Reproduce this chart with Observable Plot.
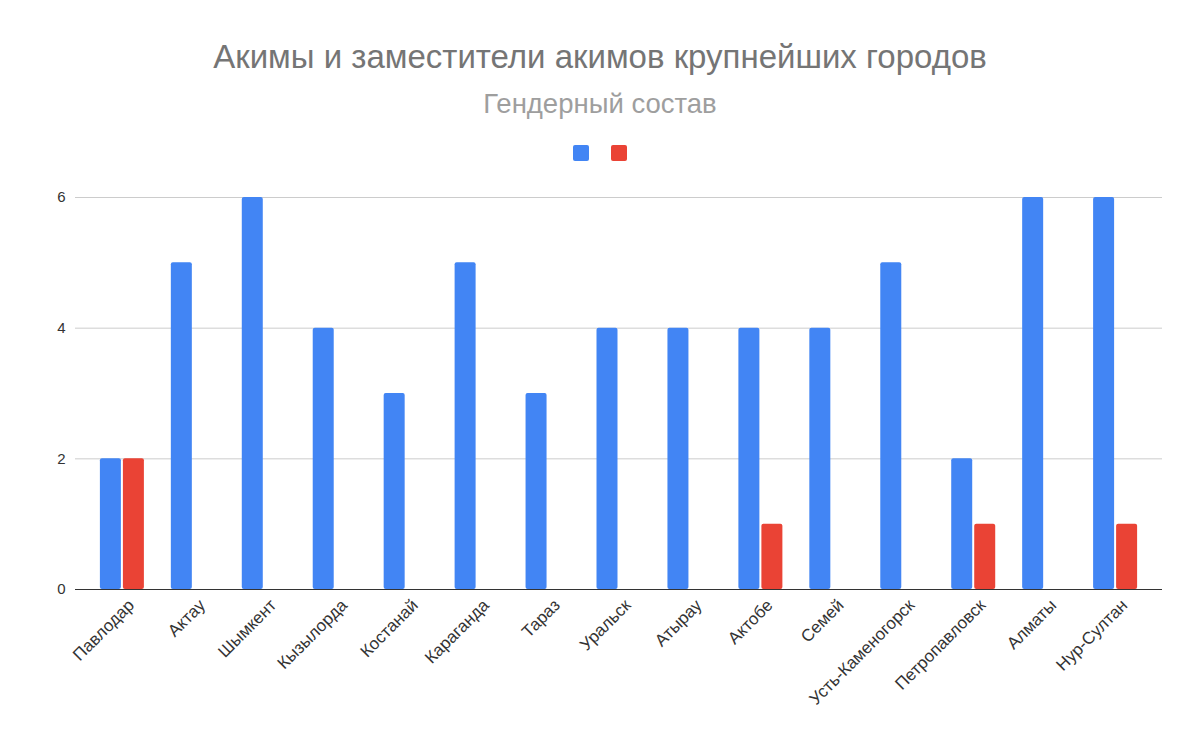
<!DOCTYPE html>
<html>
<head>
<meta charset="utf-8">
<script src="https://cdn.jsdelivr.net/npm/d3@7"></script>
<script src="https://cdn.jsdelivr.net/npm/@observablehq/plot@0.6"></script>
<style>
  body { margin: 0; background: #fff; font-family: "Liberation Sans", Arial, sans-serif; }
  #wrap { position: relative; width: 1200px; height: 741px; overflow: hidden; }
  #title { position: absolute; left: 0; width: 1200px; top: 38px; text-align: center; font-size: 33px; line-height: 38px; color: #757575; }
  #subtitle { position: absolute; left: 0; width: 1200px; top: 89px; text-align: center; font-size: 27.5px; line-height: 30px; color: #9e9e9e; }
  .sw { position: absolute; top: 145px; width: 16px; height: 16px; border-radius: 2px; }
  #chart { position: absolute; left: 0; top: 170px; }
</style>
</head>
<body>
<div id="wrap">
  <div id="title">Акимы и заместители акимов крупнейших городов</div>
  <div id="subtitle">Гендерный состав</div>
  <div class="sw" style="left:573px;background:#4285F4"></div>
  <div class="sw" style="left:611px;background:#EA4335"></div>
  <div id="chart"></div>
</div>
<script>
const cities = ["Павлодар","Актау","Шымкент","Кызылорда","Костанай","Караганда","Тараз","Уральск","Атырау","Актобе","Семей","Усть-Каменогорск","Петропавловск","Алматы","Нур-Султан"];
const men = [2,5,6,4,3,5,3,4,4,4,4,5,2,6,6];
const women = [2,0,0,0,0,0,0,0,0,1,0,0,1,0,1];
const yTicks = [0,2,4,6];

const blue = "#4285F4", red = "#EA4335";
const rowsM = cities.map((c, i) => ({city: c, v: men[i]})).filter(d => d.v > 0);
const rowsW = cities.map((c, i) => ({city: c, v: women[i]})).filter(d => d.v > 0);

const plot = Plot.plot({
  width: 1200,
  height: 571,
  marginLeft: 75,
  marginRight: 38,
  marginTop: 27,
  marginBottom: 152,
  style: {fontFamily: "'Liberation Sans', Arial, sans-serif", fontSize: "15px", color: "#333", background: "transparent"},
  x: {domain: cities, paddingInner: 0.704, paddingOuter: 0.513, round: false, label: null},
  y: {domain: [0, 6], label: null},
  marks: [
    Plot.ruleY(yTicks.filter(t => t > 0), {stroke: "#cccccc", strokeWidth: 1}),
    Plot.barY(rowsM, {x: "city", y: "v", fill: blue, dx: -11.5, rx: 2}),
    Plot.barY(rowsW, {x: "city", y: "v", fill: red, dx: 11.5, rx: 2}),
    Plot.ruleY([0], {stroke: "#333", strokeWidth: 1}),
    Plot.axisY({ticks: yTicks, tickFormat: d3.format("d"), tickSize: 0, tickPadding: 10, fontSize: 15, label: null}),
    Plot.axisX({tickSize: 0, tickRotate: -45, tickPadding: 13, dx: 9, fontSize: 17, label: null})
  ]
});
document.getElementById("chart").appendChild(plot);
</script>
</body>
</html>
